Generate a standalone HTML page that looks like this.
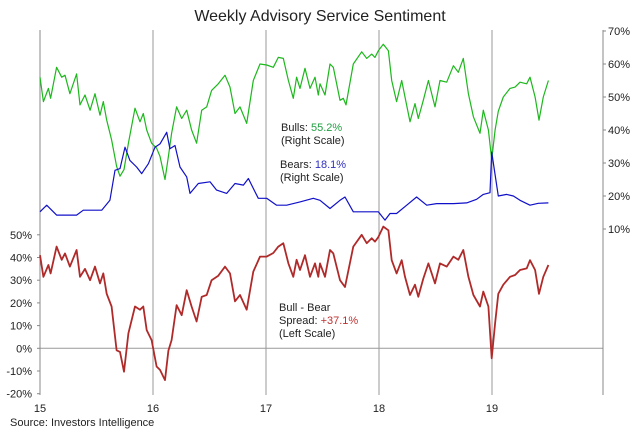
<!DOCTYPE html>
<html><head><meta charset="utf-8"><style>
html,body{margin:0;padding:0;background:#fff;}
svg{display:block;font-family:"Liberation Sans",sans-serif;}
</style></head><body>
<svg id="chart" width="640" height="431" viewBox="0 0 640 431">
<text x="320" y="21" text-anchor="middle" font-size="16" fill="#222">Weekly Advisory Service Sentiment</text>
<g id="axes"></g>
<g id="series"></g>
<g font-size="11" fill="#222">
<text x="281" y="131">Bulls: <tspan fill="#20a040">55.2%</tspan></text>
<text x="281" y="144">(Right Scale)</text></g>
<g font-size="11" fill="#222">
<text x="280" y="168">Bears: <tspan fill="#3030c0">18.1%</tspan></text>
<text x="280" y="181">(Right Scale)</text></g>
<g font-size="11" fill="#222">
<text x="279" y="311">Bull - Bear</text>
<text x="279" y="324">Spread: <tspan fill="#c03030">+37.1%</tspan></text>
<text x="279" y="337">(Left Scale)</text></g>
<text x="10" y="426" font-size="11" fill="#222">Source: Investors Intelligence</text>
</svg>
<script>
const yearLabels = ["15","16","17","18","19"];
const leftTicks = [50,40,30,20,10,0,-10,-20];
const rightTicks = [70,60,50,40,30,20,10];
const bullsT = [0,0.03,0.074,0.094,0.147,0.192,0.221,0.265,0.324,0.354,0.398,0.443,0.487,0.531,0.56,0.59,0.634,0.678,0.708,0.743,0.782,0.841,0.885,0.914,0.944,0.988,1.032,1.062,1.106,1.136,1.165,1.209,1.254,1.298,1.342,1.386,1.431,1.475,1.519,1.578,1.637,1.681,1.726,1.77,1.829,1.888,1.947,2.006,2.065,2.109,2.153,2.198,2.242,2.271,2.301,2.345,2.389,2.434,2.463,
2.478,2.522,2.566,2.596,2.655,2.684,2.708,2.773,2.847,2.891,2.935,2.965,2.994,3.038,3.083,3.112,3.156,3.201,3.23,3.274,3.319,3.348,3.392,3.437,3.496,3.54,3.599,3.658,3.702,3.746,3.791,3.835,3.894,3.923,3.968,3.997,4.027,4.056,4.1,4.159,4.204,4.248,4.307,4.336,4.381,4.416,4.454,4.499];
const bullsV = [56,48.6,52.6,49.6,59,56,56.6,51,57,47.6,50.6,46,51,44.5,48.6,43,37,29,26,28,36,46.6,42.5,45,40,36,34.5,32,25,32,39,47,43.5,46,40,36,46,47,52,54,56.6,53,45,47,42,55,60,59.7,59,62,61.7,55,49.6,56,52.6,58.7,52.6,56,50.6,
54,50.6,60,59,49,49.6,47.6,60,63.7,61.7,63,62,64,66,64,55,48.6,55,50,42.5,48,43.5,49,55,47,55,54.5,59.5,57.5,61.7,51,44,39,46,40,31,40,45.7,50,52.6,53,54.5,54,56,50,43,50,55];
const bearsT = [0,0.059,0.147,0.236,0.324,0.383,0.472,0.546,0.619,0.664,0.708,0.752,0.796,0.855,0.9,0.959,1.018,1.062,1.121,1.15,1.195,1.239,1.298,1.327,1.401,1.504,1.563,1.652,1.726,1.8,1.844,1.888,1.932,2.006,2.094,2.183,2.301,2.419,
2.478,2.566,2.655,2.699,2.773,2.861,2.994,3.053,3.097,3.156,3.245,3.333,3.422,3.51,3.658,3.776,3.864,3.923,3.982,3.997,4.056,4.13,4.189,4.248,4.336,4.41,4.499];
const bearsV = [15.2,17.2,14.2,14.2,14.2,15.7,15.7,15.7,18.7,27.8,28.3,34.8,30.8,28.8,26.8,29.8,34.8,35.8,39.3,34.3,35.3,28.8,25.8,20.8,23.8,24.3,21.8,20.8,23.8,23.3,25.3,22.3,19.3,19.3,17.2,17.2,18.2,19.3,
18.7,16.2,18.7,19.7,15.2,15.2,15.2,12.7,14.7,14.7,17.2,19.7,17.2,17.7,17.7,17.9,19,20.5,21,33.3,20,20.5,20,18.7,17.2,17.8,17.9];
const spreadT = [0,0.03,0.074,0.094,0.147,0.192,0.221,0.265,0.324,0.354,0.398,0.443,0.487,0.531,0.56,0.59,0.634,0.678,0.708,0.743,0.782,0.841,0.885,0.914,0.944,0.988,1.032,1.062,1.106,1.136,1.165,1.209,1.254,1.298,1.342,1.386,1.431,1.475,1.519,1.578,1.637,1.681,1.726,1.77,1.829,1.888,1.947,2.006,2.065,2.109,2.153,2.198,2.242,2.271,2.301,2.345,2.389,2.434,2.463,
2.478,2.522,2.566,2.596,2.655,2.699,2.773,2.847,2.891,2.935,2.965,2.994,3.038,3.083,3.112,3.156,3.201,3.23,3.274,3.319,3.348,3.392,3.437,3.496,3.54,3.599,3.658,3.702,3.746,3.791,3.835,3.894,3.923,3.968,3.997,4.027,4.056,4.1,4.159,4.204,4.248,4.307,4.336,4.381,4.416,4.454,4.499];
const spreadV = [41,31.5,36.7,33,44.8,39,41.8,36,43.3,31.5,35,30,36,28.6,33,24,18.4,-0.9,-1.6,-10.3,6.6,18.4,17,18.4,8,3.6,-8,-9.5,-14,-1,3.6,19,14.6,25.6,18.4,11.8,22.7,23.5,30,32,36,33,20.7,23.5,17,33.8,40.4,40.4,42,44.8,46.3,37.4,31.5,39,34.5,41,31.5,37.4,31.5,
37.4,31.5,43.3,41.8,30,27,44.8,50,46.3,48.5,47,49,53.6,52,38.8,33,38.8,31.5,23.5,28,22.7,30.7,37.4,28.6,37.4,36,40.4,39,43.3,31.5,23.5,18.4,25,18.4,-4.4,11,24,28,31.5,32.3,34.5,35.2,38.8,34.5,24,31.5,36.7];

const NS="http://www.w3.org/2000/svg";
const X0=40, XR=603, PXY=113;
const xs = t => X0 + PXY*t;
const yL = v => 348.3 - v*2.27;
const yR = v => 262 - v*3.3;
const axes=document.getElementById('axes'), series=document.getElementById('series');
function mk(tag, attrs, parent){const e=document.createElementNS(NS,tag);for(const k in attrs)e.setAttribute(k,attrs[k]);parent.appendChild(e);return e;}

yearLabels.forEach((lab,i)=>{
  const x=xs(i);
  if(i>0){const g=mk('line',{x1:x,y1:30,x2:x,y2:395,stroke:'#999','stroke-width':1},axes);
    
    }
  const t=mk('text',{x:x,y:412,'text-anchor':'middle','font-size':11,fill:'#222'},axes);
  t.textContent=lab;
  
  
});
const zero=mk('line',{x1:X0,y1:yL(0),x2:XR,y2:yL(0),stroke:'#999','stroke-width':1},axes);


const la=mk('line',{x1:X0,y1:30,x2:X0,y2:395,stroke:'#888','stroke-width':1},axes);


const ra=mk('line',{x1:XR,y1:30,x2:XR,y2:395,stroke:'#888','stroke-width':1},axes);


leftTicks.forEach(v=>{
  const y=yL(v);
  mk('line',{x1:X0-3,y1:y,x2:X0,y2:y,stroke:'#888'},axes);
  const t=mk('text',{x:X0-8,y:y+4,'text-anchor':'end','font-size':11,fill:'#222'},axes);
  t.textContent=v+'%';
  
  
});
rightTicks.forEach(v=>{
  const y=yR(v);
  mk('line',{x1:XR,y1:y,x2:XR+3,y2:y,stroke:'#888'},axes);
  const t=mk('text',{x:XR+5,y:y+4,'font-size':11,fill:'#222'},axes);
  t.textContent=v+'%';
  
  
});
function line(T,V,yf,color,w,name){
  const d=T.map((t,i)=>(i?'L':'M')+xs(t).toFixed(1)+','+yf(V[i]).toFixed(1)).join('');
  const p=mk('path',{d:d,fill:'none',stroke:color,'stroke-width':w,'stroke-linejoin':'round'},series);
  
  
}
line(bullsT,bullsV,yR,'#1cb81c',1.2,'bulls-line');
line(bearsT,bearsV,yR,'#1010c8',1.2,'bears-line');
line(spreadT,spreadV,yL,'#b02a2a',1.8,'spread-line');
</script>
</body></html>
